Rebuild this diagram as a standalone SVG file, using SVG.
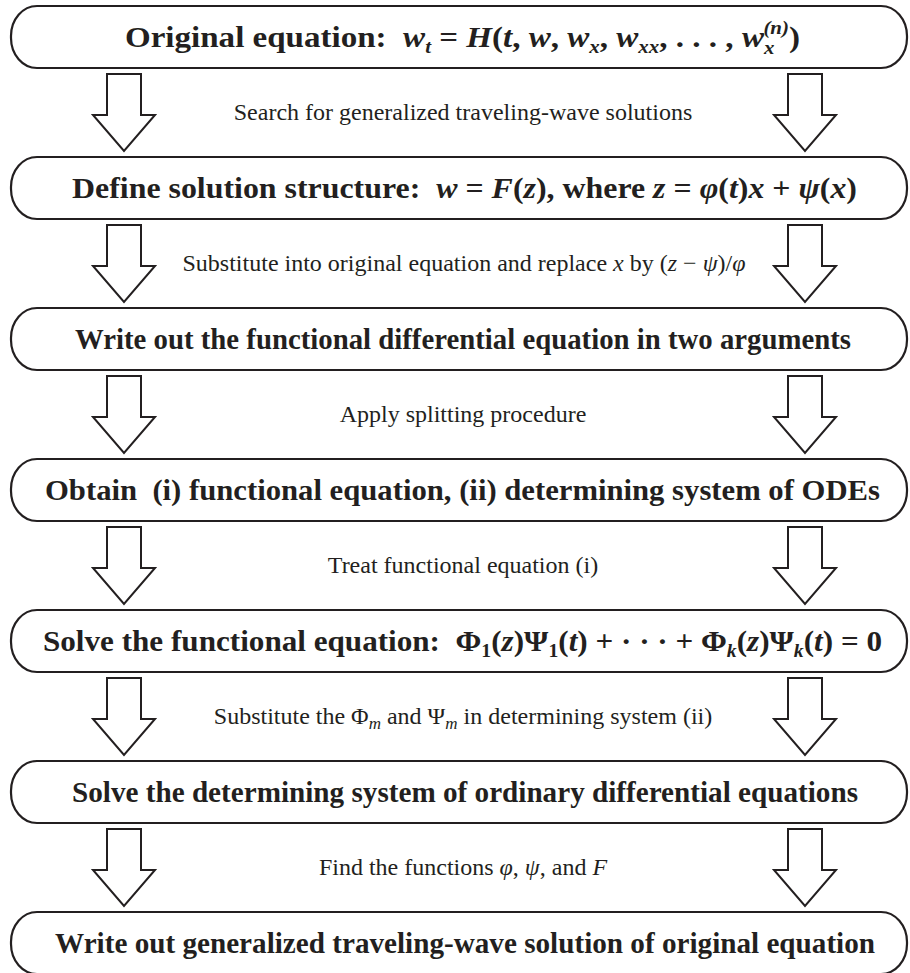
<svg xmlns="http://www.w3.org/2000/svg" width="910" height="973" viewBox="0 0 910 973">
<style>
.box{fill:#fff;stroke:#231f20;stroke-width:2.2}
.arr{fill:#fff;stroke:#231f20;stroke-width:2;stroke-linejoin:miter}
.t{font-family:"Liberation Serif","Times New Roman",serif;font-weight:bold;font-size:30px;fill:#231f20;white-space:pre;text-anchor:middle}
.m{font-style:italic}
.s{font-size:19px}
.l{font-family:"Liberation Serif","Times New Roman",serif;font-size:24px;fill:#231f20;white-space:pre;text-anchor:middle}
</style>
<g id="connectors">
<path class="arr" d="M107,74 H141 V115 H155 L124,151 L93,115 H107 Z"/>
<path class="arr" d="M788,74 H822 V115 H836 L805,151 L774,115 H788 Z"/>
<path class="arr" d="M107,225 H141 V266 H155 L124,302 L93,266 H107 Z"/>
<path class="arr" d="M788,225 H822 V266 H836 L805,302 L774,266 H788 Z"/>
<path class="arr" d="M107,376 H141 V417 H155 L124,453 L93,417 H107 Z"/>
<path class="arr" d="M788,376 H822 V417 H836 L805,453 L774,417 H788 Z"/>
<path class="arr" d="M107,527 H141 V568 H155 L124,604 L93,568 H107 Z"/>
<path class="arr" d="M788,527 H822 V568 H836 L805,604 L774,568 H788 Z"/>
<path class="arr" d="M107,678 H141 V719 H155 L124,755 L93,719 H107 Z"/>
<path class="arr" d="M788,678 H822 V719 H836 L805,755 L774,719 H788 Z"/>
<path class="arr" d="M107,829 H141 V870 H155 L124,906 L93,870 H107 Z"/>
<path class="arr" d="M788,829 H822 V870 H836 L805,906 L774,870 H788 Z"/>
<text class="l" x="463" y="120">Search for generalized traveling-wave solutions</text>
<text class="l" x="464" y="271">Substitute into original equation and replace <tspan class="m">x</tspan> by (<tspan class="m">z</tspan> − <tspan class="m">ψ</tspan>)/<tspan class="m">φ</tspan></text>
<text class="l" x="463" y="422">Apply splitting procedure</text>
<text class="l" x="463" y="573">Treat functional equation (i)</text>
<text class="l" x="463" y="724">Substitute the Φ<tspan class="m" font-size="17" dy="5">m</tspan><tspan dy="-5"> and Ψ</tspan><tspan class="m" font-size="17" dy="5">m</tspan><tspan dy="-5"> in determining system (ii)</tspan></text>
<text class="l" x="463" y="875">Find the functions <tspan class="m">φ</tspan>, <tspan class="m">ψ</tspan>, and <tspan class="m">F</tspan></text>
</g>
<g id="n1">
<rect class="box" x="11" y="6" width="896" height="62" rx="26" ry="30"/>
<text class="t" x="462.5" y="47" textLength="675" lengthAdjust="spacingAndGlyphs">Original equation:  <tspan class="m">w</tspan><tspan class="m s" dy="6">t</tspan><tspan dy="-6"> = </tspan><tspan class="m">H</tspan>(<tspan class="m">t</tspan>, <tspan class="m">w</tspan>, <tspan class="m">w</tspan><tspan class="m s" dy="6">x</tspan><tspan dy="-6">, </tspan><tspan class="m">w</tspan><tspan class="m s" dy="6">xx</tspan><tspan dy="-6">, . . . , </tspan><tspan class="m">w</tspan><tspan class="m s" dy="7">x</tspan><tspan class="m s" dx="-10" dy="-20">(n)</tspan><tspan dy="13">)</tspan></text>
</g>
<g id="n2">
<rect class="box" x="11" y="157" width="896" height="62" rx="26" ry="30"/>
<text class="t" x="464.5" y="198" textLength="785" lengthAdjust="spacingAndGlyphs">Define solution structure:  <tspan class="m">w</tspan> = <tspan class="m">F</tspan>(<tspan class="m">z</tspan>), where <tspan class="m">z</tspan> = <tspan class="m">φ</tspan>(<tspan class="m">t</tspan>)<tspan class="m">x</tspan> + <tspan class="m">ψ</tspan>(<tspan class="m">x</tspan>)</text>
</g>
<g id="n3">
<rect class="box" x="11" y="308" width="896" height="62" rx="26" ry="30"/>
<text class="t" x="463" y="349" textLength="776" lengthAdjust="spacingAndGlyphs">Write out the functional differential equation in two arguments</text>
</g>
<g id="n4">
<rect class="box" x="11" y="459" width="896" height="62" rx="26" ry="30"/>
<text class="t" x="462.5" y="500" textLength="835" lengthAdjust="spacingAndGlyphs">Obtain  (i) functional equation, (ii) determining system of ODEs</text>
</g>
<g id="n5">
<rect class="box" x="11" y="610" width="896" height="62" rx="26" ry="30"/>
<text class="t" x="462.5" y="651" textLength="839" lengthAdjust="spacingAndGlyphs">Solve the functional equation:  Φ<tspan class="s" dy="6">1</tspan><tspan dy="-6">(</tspan><tspan class="m">z</tspan>)Ψ<tspan class="s" dy="6">1</tspan><tspan dy="-6">(</tspan><tspan class="m">t</tspan>) + · · · + Φ<tspan class="m s" dy="6">k</tspan><tspan dy="-6">(</tspan><tspan class="m">z</tspan>)Ψ<tspan class="m s" dy="6">k</tspan><tspan dy="-6">(</tspan><tspan class="m">t</tspan>) = 0</text>
</g>
<g id="n6">
<rect class="box" x="11" y="761" width="896" height="62" rx="26" ry="30"/>
<text class="t" x="465" y="802" textLength="786" lengthAdjust="spacingAndGlyphs">Solve the determining system of ordinary differential equations</text>
</g>
<g id="n7">
<rect class="box" x="11" y="912" width="896" height="62" rx="26" ry="30"/>
<text class="t" x="465" y="953" textLength="820" lengthAdjust="spacingAndGlyphs">Write out generalized traveling-wave solution of original equation</text>
</g>
</svg>
